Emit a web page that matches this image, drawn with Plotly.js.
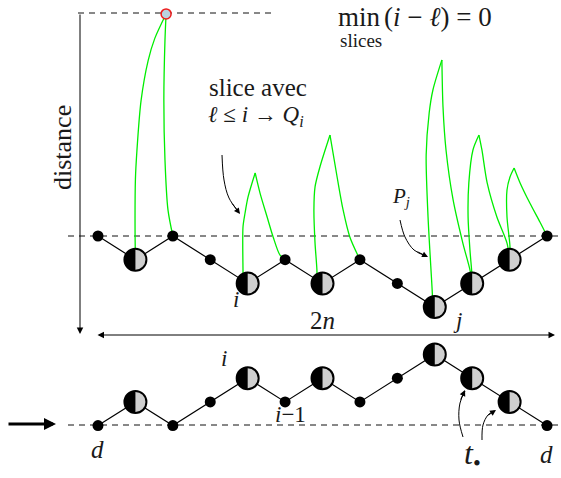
<!DOCTYPE html>
<html>
<head>
<meta charset="utf-8">
<script src="https://cdn.plot.ly/plotly-3.0.1.min.js"></script>
<style>html,body{margin:0;padding:0;background:#fff;}#chart{width:561px;height:478px;}</style>
</head>
<body>
<div id="chart"></div>
<script>
// ---- data (step index along the path, level = height) ----
const steps = [0,1,2,3,4,5,6,7,8,9,10,11,12];
const topLevels = [0,-1,0,-1,-2,-1,-2,-1,-2,-3,-2,-1,0];
const bottomLevels = [0,1,0,1,2,1,2,1,2,3,2,1,0];
const bottomBase = -8;
const nodeKinds = ['dot','half','dot','dot','half','dot','half','dot','dot','half','half','half','dot'];

// slices (green curves): left branch rising to the peak, right branch falling back
const sliceLeftX = [
  [1.00, 0.99, 1.00, 1.04, 1.15, 1.34, 1.52, 1.82],
  [3.88, 3.875, 3.875, 3.93, 4.01, 4.20],
  [5.85, 5.85, 5.80, 5.77, 5.80, 5.93, 6.20],
  [8.95, 8.93, 8.82, 8.77, 8.85, 8.95, 9.19],
  [10.0, 9.99, 9.94, 9.89, 9.91, 10.02, 10.18],
  [11.0, 11.01, 10.93, 10.93, 11.01, 11.12]
];
const sliceLeftY = [
  [-1, 0.3, 2.4, 3.6, 5.7, 7.4, 8.35, 9.37],
  [-2, -1.43, 0.38, 0.97, 1.65, 2.66],
  [-2, -1.43, -0.30, 1.10, 2.07, 2.91, 4.26],
  [-3, -2.28, 0.80, 3.42, 5.19, 6.16, 7.43],
  [-2, -1.56, -0.59, 0.80, 2.24, 3.63, 4.26],
  [-1, -0.46, 0.80, 1.94, 2.49, 2.87]
];
const sliceRightX = [
  [1.82, 1.79, 1.76, 1.79, 1.87, 2.0],
  [4.20, 4.33, 4.52, 4.68, 4.86, 5.0],
  [6.20, 6.39, 6.55, 6.73, 7.0],
  [9.19, 9.22, 9.30, 9.49, 9.75, 9.94, 10.0],
  [10.18, 10.26, 10.40, 10.66, 10.93, 11.0],
  [11.12, 11.28, 11.54, 11.81, 12.0]
];
const sliceRightY = [
  [9.37, 8.27, 5.74, 3.21, 1.10, 0],
  [2.66, 1.81, 0.80, -0.04, -0.80, -1],
  [4.26, 2.49, 1.10, -0.04, -1],
  [7.43, 5.44, 3.63, 1.52, -0.30, -1.43, -2],
  [4.26, 3.63, 2.24, 0.80, -0.30, -1],
  [2.87, 2.24, 1.39, 0.59, 0]
];
const maxPoint = [1.82, 9.37];   // highest slice top (red marker)

// ---- geometry of the canvas ----
const W = 561, H = 478;
const PXX = 37.42, PXY = 23.7;      // pixels per unit
const X0 = 98, Y0 = 236;            // pixel of (0,0)
const X = px => (px - X0) / PXX;
const Y = py => (Y0 - py) / PXY;

// ---- build traces ----
const gx = [], gy = [];
for (let k = 0; k < sliceLeftX.length; k++) {
  gx.push(...sliceLeftX[k], null, ...sliceRightX[k], null);
  gy.push(...sliceLeftY[k], null, ...sliceRightY[k], null);
}
const bottomY = bottomLevels.map(v => v + bottomBase);

const dotX = [], dotY = [], halfX = [], halfY = [];
steps.forEach((s, i) => {
  if (nodeKinds[i] === 'dot') { dotX.push(s, s); dotY.push(topLevels[i], bottomY[i]); }
  else { halfX.push(s, s); halfY.push(topLevels[i], bottomY[i]); }
});
// left black halves of the big nodes
const R = 11;
const hx = [], hy = [];
halfX.forEach((cx, i) => {
  const cy = halfY[i];
  for (let a = 90; a <= 270; a += 10) {
    const t = a * Math.PI / 180;
    hx.push(cx + R * Math.cos(t) / PXX);
    hy.push(cy + R * Math.sin(t) / PXY);
  }
  hx.push(null); hy.push(null);
});

// curved pointer arrows (pixel readings converted through the axes)
const arrowsPx = [
  [[222,155],[224,180],[229,198],[238,211]],
  [[400,220],[405,237],[414,250],[426,256]],
  [[463,437],[459,420],[460,403],[465,391]],
  [[482,440],[483,425],[488,415],[494,411]]
];
const ax_ = [], ay_ = [];
arrowsPx.forEach(a => { a.forEach(p => { ax_.push(X(p[0])); ay_.push(Y(p[1])); }); ax_.push(null); ay_.push(null); });

const traces = [
  {x: gx, y: gy, mode: 'lines', line: {color: '#00ee00', width: 1.3, shape: 'spline', smoothing: 0.8}, hoverinfo: 'skip'},
  {x: steps, y: topLevels, mode: 'lines', line: {color: '#000', width: 1.2}, hoverinfo: 'skip'},
  {x: steps, y: bottomY, mode: 'lines', line: {color: '#000', width: 1.2}, hoverinfo: 'skip'},
  {x: dotX, y: dotY, mode: 'markers', marker: {size: 11, color: '#000'}, hoverinfo: 'skip'},
  {x: halfX, y: halfY, mode: 'markers', marker: {size: 22, color: '#cfcfcf', line: {color: '#000', width: 2}}, hoverinfo: 'skip'},
  {x: hx, y: hy, mode: 'lines', fill: 'toself', fillcolor: '#000', line: {width: 0, color: '#000'}, hoverinfo: 'skip'},
  {x: [maxPoint[0]], y: [maxPoint[1]], mode: 'markers', marker: {size: 10, color: '#b9d3e0', line: {color: '#ee1c1c', width: 1.5}}, hoverinfo: 'skip'},
  {x: ax_, y: ay_, mode: 'lines', line: {color: '#000', width: 1, shape: 'spline'}, hoverinfo: 'skip'}
];

// ---- annotations ----
const serif = 'Liberation Serif';
const P = (px, py) => ({x: px / W, y: 1 - py / H, xref: 'paper', yref: 'paper'});
function label(text, px, py, size, extra) {
  return Object.assign(P(px, py), {text: text, showarrow: false, xanchor: 'center', yanchor: 'middle',
    font: {family: serif, size: size, color: '#1a1a1a'}}, extra || {});
}
function arrow(tail, head, extra) {
  return Object.assign({x: X(head[0]), y: Y(head[1]), xref: 'x', yref: 'y',
    ax: tail[0] - head[0], ay: tail[1] - head[1], axref: 'pixel', ayref: 'pixel',
    text: '', showarrow: true, arrowhead: 2, arrowsize: 1.2, arrowwidth: 1, arrowcolor: '#000'}, extra || {});
}
const annotations = [
  label('distance', 62, 148, 26, {textangle: -90}),
  label('slice avec', 258, 87, 25),
  label('<i>ℓ</i> ≤ <i>i</i> → <i>Q<sub>i</sub></i>', 256, 116, 23),
  label('min', 359, 17, 27),
  label('slices', 361, 40, 19),
  label('(<i>i</i> − <i>ℓ</i>) = 0', 382, 17, 27, {xanchor: 'left'}),
  label('<i>P<sub>j</sub></i>', 401, 197, 21),
  label('<i>i</i>', 236, 299, 23),
  label('2<i>n</i>', 322, 320, 25),
  label('<i>j</i>', 457, 320, 23),
  label('<i>i</i>', 224, 358, 23),
  label('<i>i</i>−1', 290, 414, 23),
  label('<i>d</i>', 97, 449, 25),
  label('<i>d</i>', 546, 454, 25),
  label('<i>t</i><sub>•</sub>', 472, 455, 32),
  arrow([80, 13], [80, 334], {arrowsize: 1.3}),
  arrow([96, 335], [555, 335], {arrowside: 'end+start', arrowsize: 1.3}),
  arrow([7, 424], [56, 424], {arrowwidth: 3, arrowsize: 0.8}),
  arrow([231, 202], [240, 214]),
  arrow([416, 251], [428, 257]),
  arrow([460, 401], [465, 390]),
  arrow([487, 416], [496, 410])
];

// ---- dashed guide lines ----
const dashed = (x0, x1, y) => ({type: 'line', xref: 'x', yref: 'y', x0: X(x0), x1: X(x1), y0: Y(y), y1: Y(y),
  line: {color: '#111', width: 1, dash: '6px,5px'}, layer: 'below'});
const shapes = [dashed(78, 272, 13), dashed(68, 561, 236), dashed(68, 561, 425)];

const layout = {
  width: W, height: H, margin: {l: 0, r: 0, t: 0, b: 0},
  paper_bgcolor: '#fff', plot_bgcolor: '#fff', showlegend: false,
  xaxis: {range: [X(0), X(W)], visible: false, fixedrange: true},
  yaxis: {range: [Y(H), Y(0)], visible: false, fixedrange: true},
  annotations: annotations, shapes: shapes
};
Plotly.newPlot('chart', traces, layout, {staticPlot: true});
</script>
</body>
</html>
